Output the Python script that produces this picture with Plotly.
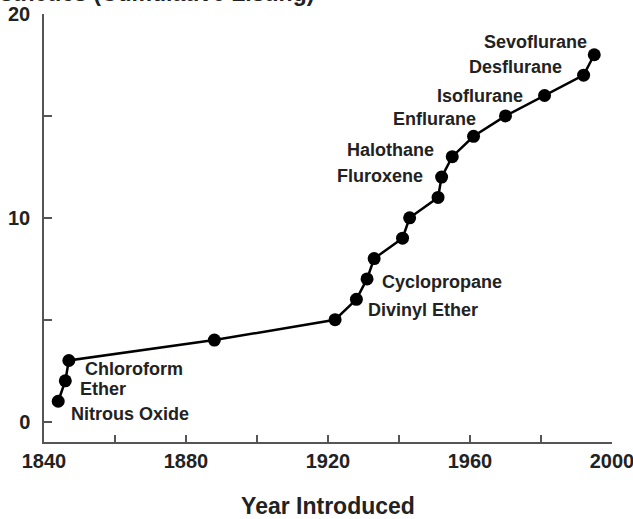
import plotly.graph_objects as go

years = [1844, 1846, 1847, 1888, 1922, 1928, 1931, 1933, 1941, 1943,
         1951, 1952, 1955, 1961, 1970, 1981, 1992, 1995]
counts = [1, 2, 3, 4, 5, 6, 7, 8, 9, 10, 11, 12, 13, 14, 15, 16, 17, 18]
labels = ["Nitrous Oxide", "Ether", "Chloroform", "", "", "Divinyl Ether",
          "Cyclopropane", "", "", "", "", "Fluroxene", "Halothane", "",
          "Enflurane", "Isoflurane", "Desflurane", "Sevoflurane"]

x_tickvals = [1840, 1860, 1880, 1900, 1920, 1940, 1960, 1980, 2000]
x_ticktext = ["1840", "", "1880", "", "1920", "", "1960", "", "2000"]
y_tickvals = [0, 5, 10, 15, 20]
y_ticktext = ["0", "", "10", "", "20"]

# label placement (pixel offsets, anchor side)
label_style = {
    "Nitrous Oxide": ("left", 11, -13),
    "Ether": ("left", 13, -8),
    "Chloroform": ("left", 14, -9),
    "Divinyl Ether": ("left", 10, -11),
    "Cyclopropane": ("left", 13, -3),
    "Fluroxene": ("right", -17, 1),
    "Halothane": ("right", -16, 7),
    "Enflurane": ("right", -28, -3),
    "Isoflurane": ("right", -20, 0),
    "Desflurane": ("right", -20, 8),
    "Sevoflurane": ("right", -5, 13),
}

FONT = "Liberation Sans, Arial, sans-serif"
TXT = "#222222"
AX = "#555555"

fig = go.Figure()
fig.add_trace(go.Scatter(
    x=years, y=counts, mode="lines+markers",
    line=dict(color="black", width=2.5),
    marker=dict(color="black", size=13),
    showlegend=False, hoverinfo="x+y",
))

for xv, yv, lab in zip(years, counts, labels):
    if not lab:
        continue
    side, dx, dy = label_style[lab]
    fig.add_annotation(
        x=xv, y=yv, xref="x", yref="y", text=lab,
        showarrow=False, xanchor=side, yanchor="middle",
        xshift=dx, yshift=dy,
        font=dict(family=FONT, size=18, color=TXT, weight="bold"),
    )

# cropped header text at the top
fig.add_annotation(
    x=0.479, y=1.014, xref="paper", yref="paper",
    text="Number of Anesthetics (Cumulative Listing)",
    showarrow=False, xanchor="right", yanchor="bottom",
    font=dict(family=FONT, size=23, color=TXT, weight="bold"),
)

fig.update_layout(
    width=633, height=519,
    margin=dict(l=44, r=21, t=14, b=77),
    paper_bgcolor="white", plot_bgcolor="white",
    font=dict(family=FONT, color=TXT),
    xaxis=dict(
        range=[1840, 2000], tickvals=x_tickvals, ticktext=x_ticktext,
        ticks="inside", ticklen=7, tickwidth=1.5, tickcolor=AX,
        showline=True, linecolor=AX, linewidth=1.5, showgrid=False,
        zeroline=False, automargin=False, ticklabeloverflow="allow",
        tickfont=dict(family=FONT, size=20, color=TXT, weight="bold"),
        title=dict(text="Year Introduced", standoff=33,
                   font=dict(family=FONT, size=23, color=TXT, weight="bold")),
    ),
    yaxis=dict(
        range=[-1, 20], tickvals=y_tickvals, ticktext=y_ticktext,
        ticks="inside", ticklen=8, tickwidth=1.5, tickcolor=AX,
        showline=True, linecolor=AX, linewidth=1.5, showgrid=False,
        zeroline=False, automargin=False, ticklabeloverflow="allow",
        ticklabelstandoff=8,
        tickfont=dict(family=FONT, size=20, color=TXT, weight="bold"),
    ),
)

fig.write_html(
    "out.html",
    config={"displayModeBar": False},
    post_script="document.body.style.margin='0';document.body.style.overflow='hidden';",
)
